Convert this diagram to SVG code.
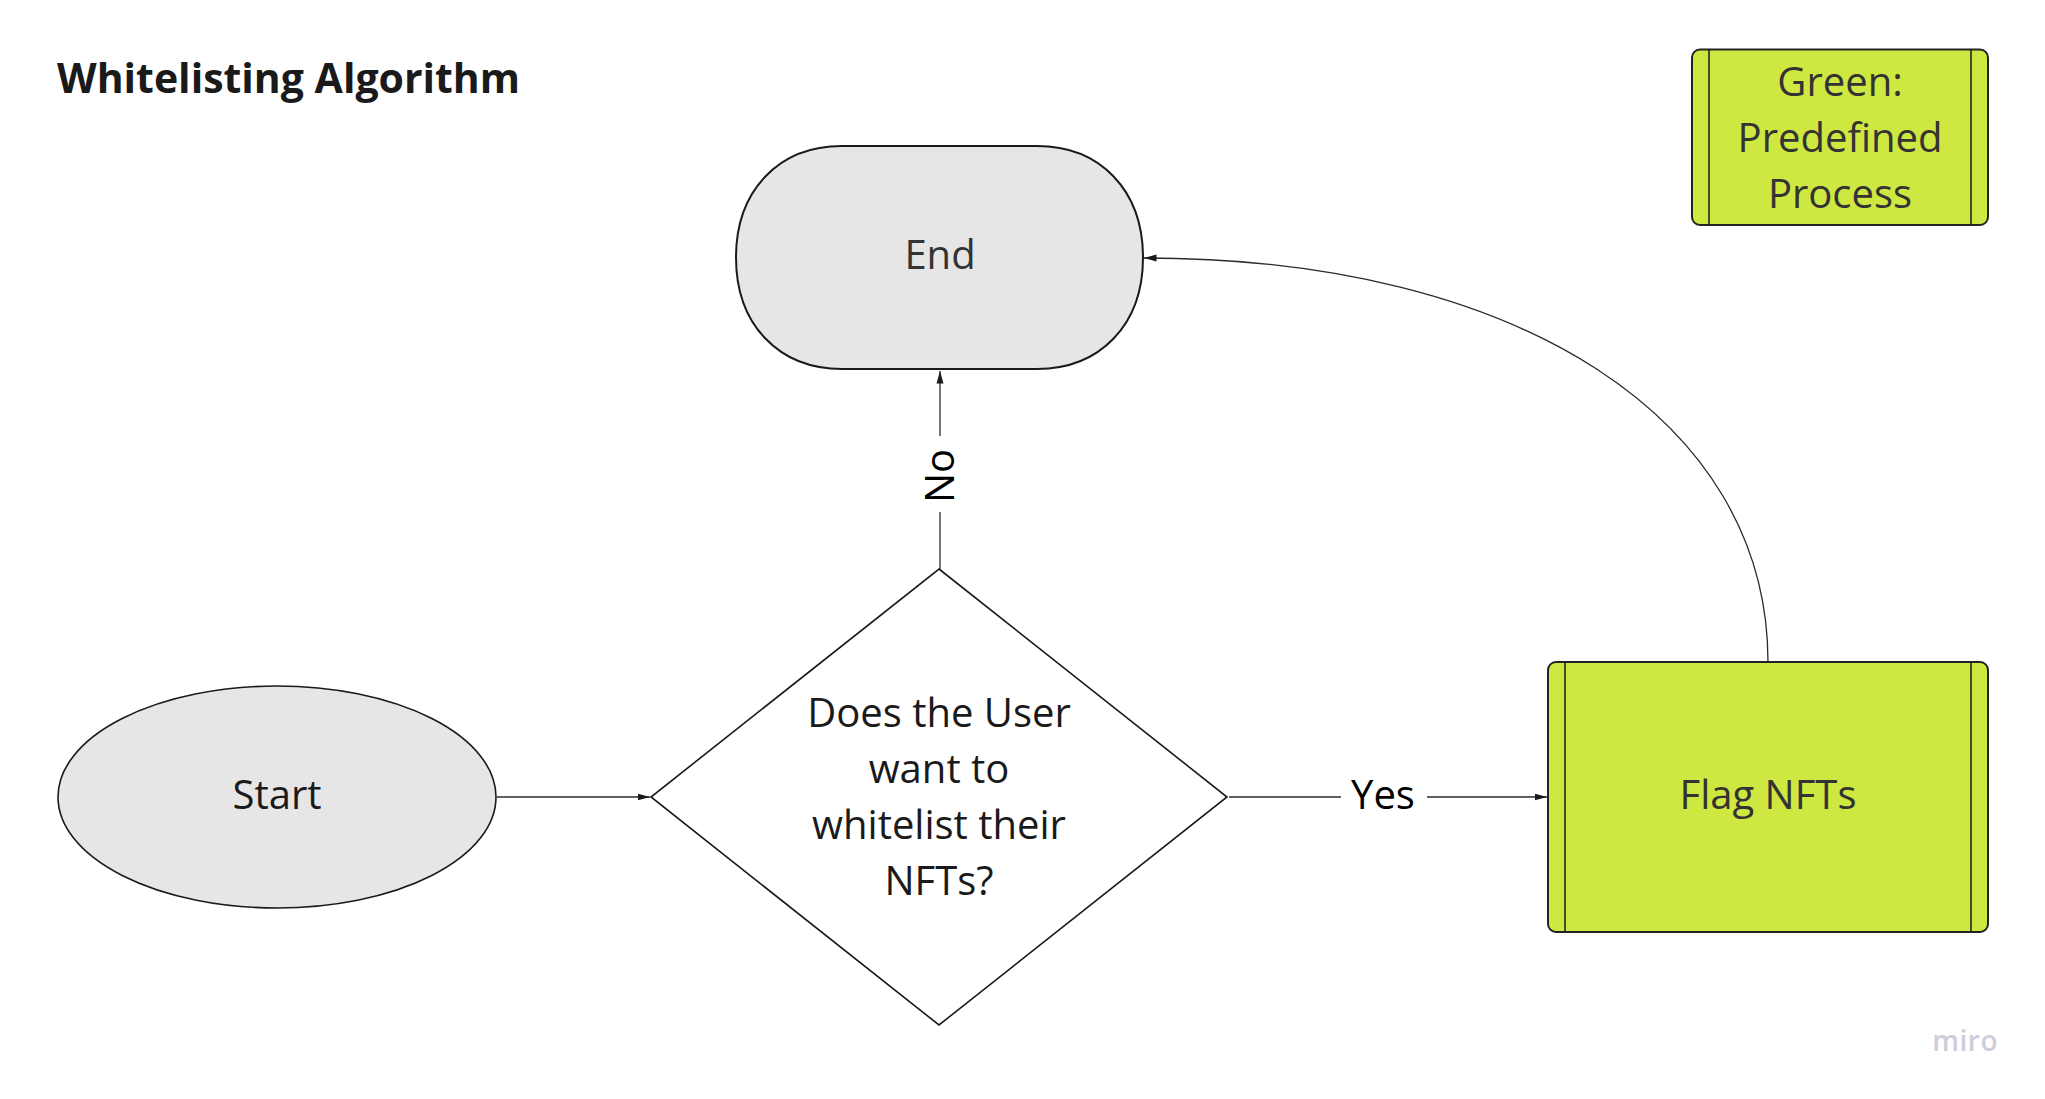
<svg xmlns="http://www.w3.org/2000/svg" width="2045" height="1099" viewBox="0 0 2045 1099">
<style>
.bg{fill:#ffffff}
.t{font-family:"Open Sans","Noto Sans","Liberation Sans",sans-serif;font-size:40px;text-anchor:middle}
.dark{fill:#1a1a1a}
.mid{fill:#333333}
.title{font-family:"Open Sans","Noto Sans","Liberation Sans",sans-serif;font-size:41px;font-weight:bold;fill:#1a1a1a}
.gray{fill:#e6e6e6;stroke:#1a1a1a;stroke-width:2}
.dia{fill:#ffffff;stroke:#1a1a1a;stroke-width:1.6}
.green{fill:#cee741;stroke:#222222;stroke-width:2}
.inner{stroke:#222222;stroke-width:1.6;fill:none}
.conn{fill:none;stroke:#2b2b2b;stroke-width:1.3}
.logo{font-family:"Open Sans","Noto Sans",sans-serif;font-size:28px;font-weight:600;letter-spacing:0.5px;fill:#cdcddb;text-anchor:end}
</style>
<defs>
<marker id="arrow" markerUnits="userSpaceOnUse" markerWidth="13" markerHeight="8" refX="12.5" refY="4" orient="auto">
<path d="M0,0.5 L12.5,4 L0,7.5 z" fill="#1a1a1a"/>
</marker>
</defs>
<rect class="bg" x="0" y="0" width="2045" height="1099"/>
<text class="title" x="57" y="92.5">Whitelisting Algorithm</text>

<g id="connectors">
<path class="conn" d="M497,797 H650" marker-end="url(#arrow)"/>
<path class="conn" d="M940,569 V512"/>
<path class="conn" d="M940,436 V371" marker-end="url(#arrow)"/>
<path class="conn" d="M1229,797 H1341"/>
<path class="conn" d="M1427,797 H1547" marker-end="url(#arrow)"/>
<path class="conn" d="M1768,662 C1768,420 1520,258 1144,258" marker-end="url(#arrow)"/>
<text class="t" fill="#000000" x="1383" y="808.5">Yes</text>
<text class="t" fill="#000000" transform="translate(940,476) rotate(-90)" x="0" y="14">No</text>
</g>

<g id="node-end">
<path class="gray" d="M842,146 H1037 C1100,146 1143,190 1143,257.5 C1143,325 1100,369 1037,369 H842 C779,369 736,325 736,257.5 C736,190 779,146 842,146 Z"/>
<text class="t mid" x="940" y="269">End</text>
</g>

<g id="node-start">
<ellipse class="gray" cx="277" cy="797" rx="219" ry="111" style="stroke-width:1.6"/>
<text class="t dark" x="277" y="808.5">Start</text>
</g>

<g id="node-decision">
<polygon class="dia" points="939,569 1227,797 939,1025 651,797"/>
<text class="t dark" x="939" y="727">Does the User</text>
<text class="t dark" x="939" y="783">want to</text>
<text class="t dark" x="939" y="839">whitelist their</text>
<text class="t dark" x="939" y="895">NFTs?</text>
</g>

<g id="node-flag">
<rect class="green" x="1548" y="662" width="440" height="270" rx="8" ry="8"/>
<line class="inner" x1="1565" y1="662" x2="1565" y2="932"/>
<line class="inner" x1="1971" y1="662" x2="1971" y2="932"/>
<text class="t mid" x="1768" y="808.5">Flag NFTs</text>
</g>

<g id="node-legend">
<rect class="green" x="1692" y="49.5" width="296" height="175.5" rx="8" ry="8"/>
<line class="inner" x1="1709" y1="49.5" x2="1709" y2="225"/>
<line class="inner" x1="1971" y1="49.5" x2="1971" y2="225"/>
<text class="t mid" x="1840" y="95.5">Green:</text>
<text class="t mid" x="1840" y="151.5">Predefined</text>
<text class="t mid" x="1840" y="207.5">Process</text>
</g>

<text class="logo" x="1998" y="1051">miro</text>
</svg>
